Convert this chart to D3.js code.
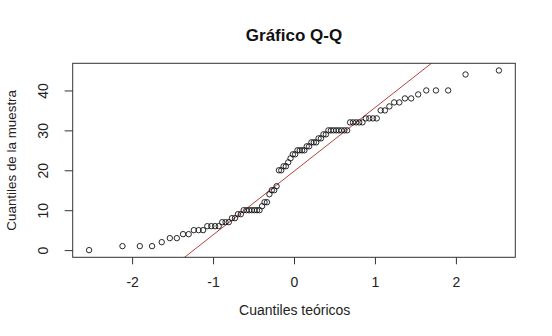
<!DOCTYPE html>
<html>
<head>
<meta charset="utf-8">
<script src="https://cdn.jsdelivr.net/npm/d3@7"></script>
<style>
  body { margin: 0; background: #fff; }
  svg { display: block; font-family: "Liberation Sans", Arial, sans-serif; }
  .tick line { stroke: #333; }
  .tick text { fill: #222; font-size: 14px; }
</style>
</head>
<body>
<div id="graph"></div>
<script>
// sorted sample values
var sample = [
  0, 1, 1, 1, 2, 3, 3, 4, 4, 5, 5, 5,
  6, 6, 6, 6, 7, 7, 7, 8, 8, 9,
  9, 10, 10, 10, 10, 10, 10, 10, 11, 12, 12,
  14, 15, 15, 16, 20, 20, 21, 21, 22, 23, 24, 24,
  25, 25, 25, 25, 26, 26, 27, 27, 27, 28, 28, 29, 29,
  30, 30, 30, 30, 30, 30, 30, 30, 32, 32, 32, 32, 32,
  33, 33, 33, 33, 35, 35, 36, 37, 37, 38, 38, 39,
  40, 40, 40, 44, 45
];
var xTicks = [-2, -1, 0, 1, 2];
var yTicks = [0, 10, 20, 30, 40];
var title = "Gráfico Q-Q";
var xTitle = "Cuantiles teóricos";
var yTitle = "Cuantiles de la muestra";

var width = 552, height = 336;
var margin = { top: 63.3, left: 72.7, bottom: 78.7, right: 36.7 };

var svg = d3.select("#graph").append("svg")
  .attr("width", width).attr("height", height);

// inverse normal cdf (Acklam)
function qnorm(p) {
  var a = [-39.69683028665376, 220.9460984245205, -275.9285104469687, 138.3577518672690, -30.66479806614716, 2.506628277459239];
  var b = [-54.47609879822406, 161.5858367580409, -155.6989798598866, 66.80131188771972, -13.28068155288572];
  var c = [-0.007784894002430293, -0.3223964580411365, -2.400758277161838, -2.549732539343734, 4.374664141464968, 2.938163982698783];
  var d = [0.007784695709041462, 0.3224671290700398, 2.445134137142996, 3.754408661907416];
  var q, r;
  if (p < 0.02425) {
    q = Math.sqrt(-2 * Math.log(p));
    return (((((c[0]*q+c[1])*q+c[2])*q+c[3])*q+c[4])*q+c[5]) / ((((d[0]*q+d[1])*q+d[2])*q+d[3])*q+1);
  } else if (p > 1 - 0.02425) {
    q = Math.sqrt(-2 * Math.log(1 - p));
    return -(((((c[0]*q+c[1])*q+c[2])*q+c[3])*q+c[4])*q+c[5]) / ((((d[0]*q+d[1])*q+d[2])*q+d[3])*q+1);
  }
  q = p - 0.5; r = q * q;
  return (((((a[0]*r+a[1])*r+a[2])*r+a[3])*r+a[4])*r+a[5])*q / (((((b[0]*r+b[1])*r+b[2])*r+b[3])*r+b[4])*r+1);
}

var n = sample.length;
var points = sample.map(function(v, i) {
  return { x: qnorm((i + 1 - 0.5) / n), y: v };
});

// R style 4% padding
function pad(ext) {
  var d = (ext[1] - ext[0]) * 0.04;
  return [ext[0] - d, ext[1] + d];
}

var xScale = d3.scaleLinear()
  .domain(pad(d3.extent(points, function(d) { return d.x; })))
  .range([margin.left, width - margin.right]);
var yScale = d3.scaleLinear()
  .domain(pad(d3.extent(sample)))
  .range([height - margin.bottom, margin.top]);

svg.append("defs").append("clipPath").attr("id", "plotClip")
  .append("rect")
  .attr("x", margin.left).attr("y", margin.top)
  .attr("width", width - margin.left - margin.right)
  .attr("height", height - margin.top - margin.bottom);

// qqline through the quartiles
var q1 = d3.quantile(sample, 0.25), q3 = d3.quantile(sample, 0.75);
var slope = (q3 - q1) / (qnorm(0.75) - qnorm(0.25));
var intercept = q1 - slope * qnorm(0.25);
var xd = xScale.domain();

svg.append("line")
  .attr("clip-path", "url(#plotClip)")
  .attr("x1", xScale(xd[0])).attr("y1", yScale(intercept + slope * xd[0]))
  .attr("x2", xScale(xd[1])).attr("y2", yScale(intercept + slope * xd[1]))
  .attr("stroke", "#b5413b").attr("stroke-width", 1);

svg.append("g").selectAll("circle")
  .data(points)
  .enter().append("circle")
  .attr("cx", function(d) { return xScale(d.x); })
  .attr("cy", function(d) { return yScale(d.y); })
  .attr("r", 2.7)
  .attr("fill", "none")
  .attr("stroke", "#111")
  .attr("stroke-width", 0.9);

// frame
svg.append("rect")
  .attr("x", margin.left).attr("y", margin.top)
  .attr("width", width - margin.left - margin.right)
  .attr("height", height - margin.top - margin.bottom)
  .attr("fill", "none").attr("stroke", "#333").attr("stroke-width", 1);

var xAxis = svg.append("g")
  .attr("transform", "translate(0," + (height - margin.bottom) + ")")
  .call(d3.axisBottom(xScale).tickValues(xTicks).tickSize(7).tickPadding(12.5)
    .tickFormat(function(d) { return d; }));
xAxis.select(".domain").remove();
xAxis.selectAll("text").attr("font-family", null).attr("font-size", null);

var yAxis = svg.append("g")
  .attr("transform", "translate(" + margin.left + ",0)")
  .call(d3.axisLeft(yScale).tickValues(yTicks).tickSize(8));
yAxis.select(".domain").remove();
yAxis.selectAll("text")
  .attr("font-family", null).attr("font-size", null)
  .attr("transform", "rotate(-90)")
  .attr("text-anchor", "middle")
  .attr("x", 0).attr("y", -24.4).attr("dy", 0);

svg.append("text")
  .attr("x", 294).attr("y", 40.5)
  .attr("text-anchor", "middle")
  .attr("font-weight", "bold").attr("font-size", 17)
  .attr("fill", "#111")
  .text(title);

svg.append("text")
  .attr("x", 294.7).attr("y", 314.5)
  .attr("text-anchor", "middle")
  .attr("font-size", 14).attr("fill", "#222")
  .text(xTitle);

svg.append("text")
  .attr("transform", "translate(15.5," + ((margin.top + height - margin.bottom) / 2) + ") rotate(-90)")
  .attr("text-anchor", "middle")
  .attr("font-size", 13.4).attr("fill", "#222")
  .text(yTitle);
</script>
</body>
</html>
